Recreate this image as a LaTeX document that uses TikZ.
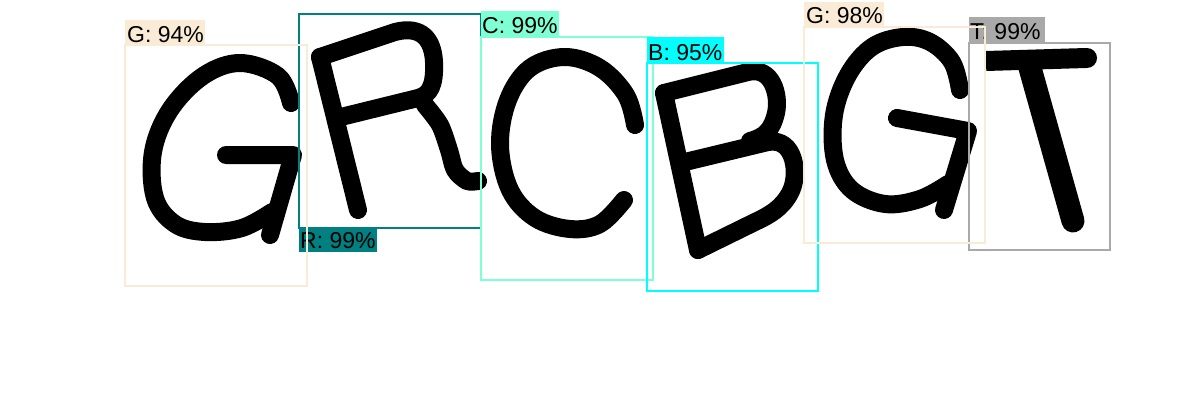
\documentclass[tikz,border=0pt]{standalone}
\usepackage{fontspec}
\setmainfont{Liberation Sans}
\definecolor{awhite}{HTML}{FAEBD7}
\definecolor{tealc}{HTML}{008080}
\definecolor{aquam}{HTML}{7FFFD4}
\definecolor{cyanc}{HTML}{00FFFF}
\definecolor{dgray}{HTML}{A9A9A9}
\begin{document}
\begin{tikzpicture}[x=1pt,y=-1pt,
 letter/.style={draw=black,line width=18pt,line cap=round,line join=round},
 detbox/.style={line width=2pt},
 lbl/.style={anchor=base west,inner sep=0pt,font=\fontsize{23}{25}\selectfont}]
\useasboundingbox[fill=white] (0,0) rectangle (1200,420);
% letters
% G1
\draw[letter] plot[smooth,tension=0.6] coordinates {(291,103) (278,76) (240,63) (203,76) (170,110) (153,152) (155,198) (175,224) (205,232) (242,228) (272,212)};
\draw[letter] (226,155) -- (293,155) -- (270,235);
% R
\draw[letter] (320,57) -- (358,210);
\draw[letter] (320,57) -- (395,32) .. controls (422,25) and (433,40) .. (434,62) .. controls (435,85) and (430,95) .. (418,98) -- (345,116);
\draw[letter] plot[smooth] coordinates {(425,105) (440,125) (449,150) (455,170) (467,181) (478,181)};
% C
\draw[letter] plot[smooth,tension=0.6] coordinates {(635,125) (626,95) (600,68) (565,57) (530,68) (508,100) (500,145) (510,190) (535,218) (570,229) (600,224) (624,200)};
% B
\draw[letter] (664,93) -- (698,250);
\draw[letter] (664,93) -- (748,72) .. controls (772,66) and (780,95) .. (776,113) .. controls (772,130) and (765,137) .. (750,141);
\draw[letter] (685,162) -- (768,142) .. controls (795,137) and (800,175) .. (790,193) .. controls (782,208) and (770,215) .. (755,222) -- (698,250);
% G2
\draw[letter] plot[smooth,tension=0.6] coordinates {(960,90) (952,62) (930,42) (903,37) (872,47) (848,75) (834,115) (835,160) (852,190) (885,204) (920,199) (948,184)};
\draw[letter] (897,118) -- (968,131) -- (944,210);
% T
\draw[letter,line width=20pt,line cap=butt] (986,61) -- (1086,58);
\draw[letter,line width=20pt,line cap=round] (1084,58) -- (1087,58);
\draw[letter,line width=23pt] (1030,68) -- (1073,221);
% detections
\draw[detbox,tealc] (299,14) rectangle (481,228);
\fill[tealc] (299,228) rectangle (377,252);
\node[lbl] (l2) at (300,248) {R: 99\%};
\draw[detbox,awhite] (125,45) rectangle (307,286);
\fill[awhite] (125,20) rectangle (205,45);
\node[lbl] (l1) at (127,43) {G: 94\%};
\draw[detbox,aquam] (481,37) rectangle (653,280);
\fill[aquam] (481,11) rectangle (559,37);
\node[lbl] (l3) at (482,34) {C: 99\%};
\draw[detbox,cyanc] (647,63) rectangle (818,291);
\fill[cyanc] (647,37) rectangle (724,63);
\node[lbl] (l4) at (648,61) {B: 95\%};
\draw[detbox,dgray] (969,43) rectangle (1110,250);
\fill[dgray] (969,17) rectangle (1045,43);
\node[lbl] (l6) at (970,40) {T: 99\%};
\draw[detbox,awhite] (804,27) rectangle (985,243);
\fill[awhite] (804,2) rectangle (884,27);
\node[lbl] (l5) at (806,24) {G: 98\%};
\end{tikzpicture}
\end{document}
